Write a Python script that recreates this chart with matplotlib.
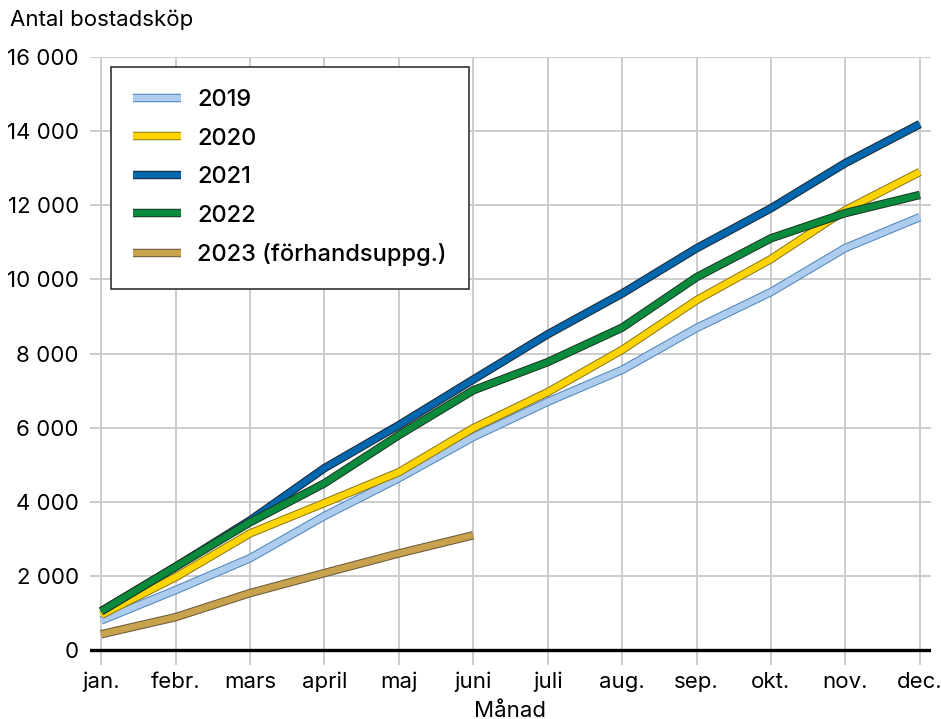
import numpy as np
import matplotlib
matplotlib.use('Agg')
import matplotlib.pyplot as plt
import matplotlib.patheffects as pe
from matplotlib.ticker import FuncFormatter

plt.rcParams['font.family'] = ['Inter', 'DejaVu Sans']

months = ['jan.', 'febr.', 'mars', 'april', 'maj', 'juni', 'juli', 'aug.', 'sep.', 'okt.', 'nov.', 'dec.']

y2019 = [800, 1620, 2480, 3620, 4640, 5750, 6700, 7560, 8690, 9660, 10850, 11680]
y2020 = [950, 1970, 3150, 3970, 4800, 5990, 6960, 8100, 9440, 10550, 11870, 12900]
y2021 = [1050, 2250, 3500, 4910, 6070, 7300, 8520, 9620, 10840, 11920, 13140, 14190]
y2022 = [1050, 2250, 3450, 4500, 5800, 7010, 7770, 8700, 10060, 11110, 11790, 12280]
y2023 = [430, 890, 1540, 2080, 2610, 3100]

labels = ['2019', '2020', '2021', '2022', '2023 (förhandsuppg.)']
fills = ['#aecdee', '#ffd400', '#0066ad', '#0a8a3c', '#c9a24e']
edges = ['#4f86bd', '#8c7a1c', '#1d2b38', '#1b3b22', '#6b5a3c']
series = [y2019, y2020, y2021, y2022, y2023]

fig = plt.figure(figsize=(9.41, 7.19), dpi=100)
ax = fig.add_axes([90/941, 54/719, 841/941, 608/719])

x = np.arange(len(months))
for vals, lab, fc, ec in zip(series, labels, fills, edges):
    ax.plot(x[:len(vals)], vals, color=fc, lw=4.6, label=lab,
            solid_capstyle='butt', solid_joinstyle='round',
            path_effects=[pe.Stroke(linewidth=6.1, foreground=ec), pe.Normal()])

ax.set_xlim(-0.15, 11.15)
ax.set_ylim(-400, 16000)
ax.set_yticks(np.arange(0, 16001, 2000))
ax.yaxis.set_major_formatter(FuncFormatter(lambda v, p: f'{int(v):,}'.replace(',', ' ')))
ax.set_xticks(x)
ax.set_xticklabels(months)
ax.grid(True, color='#c8c8c8', lw=1.3)
ax.set_axisbelow(True)
ax.axhline(0, color='black', lw=2.4, zorder=1.5)
for s in ax.spines.values():
    s.set_visible(False)
ax.tick_params(length=0, labelsize=16, pad=8)
ax.tick_params(axis='x', pad=5)
ax.set_xlabel('Månad', fontsize=16, labelpad=6)

fig.text(10/941, 1 - 20/719, 'Antal bostadsköp', fontsize=16, va='center', ha='left')

leg = ax.legend(loc='upper left', bbox_to_anchor=(0.025, 0.984), borderaxespad=0,
                fontsize=17, handlelength=2.0, labelspacing=0.7, borderpad=0.95,
                handletextpad=0.7, fancybox=False, framealpha=1, edgecolor='#333333')
leg.get_frame().set_linewidth(1.2)
for t in leg.get_texts():
    t.set_fontweight('medium')

fig.savefig('out.png', dpi=100)
